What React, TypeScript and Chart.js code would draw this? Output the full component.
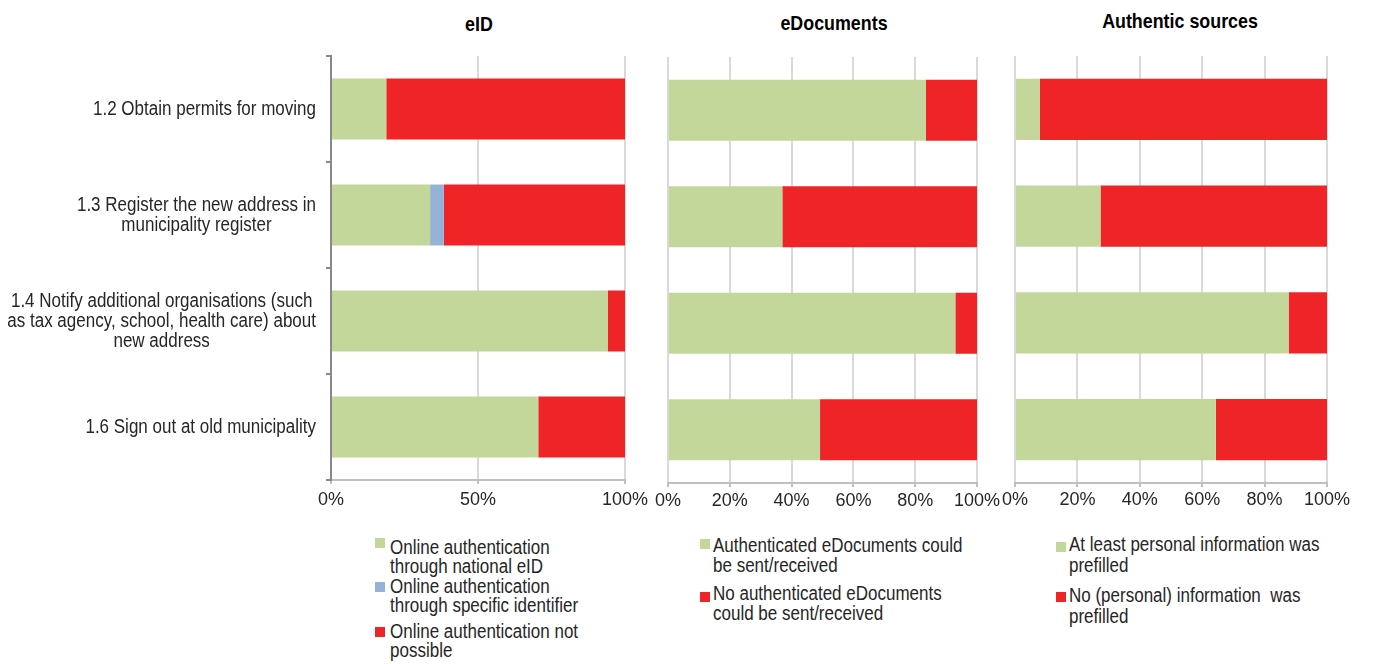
import React, { useEffect, useRef } from "react";
import { Chart, registerables } from "chart.js";

Chart.register(...registerables);

// ---------- data ----------
const categories: string[][] = [
  ["1.2 Obtain permits for moving"],
  ["1.3 Register the new address in", "municipality register"],
  ["1.4 Notify additional organisations (such", "as tax agency, school, health care) about", "new address"],
  ["1.6 Sign out at old municipality"],
];

const panelTitles = ["eID", "eDocuments", "Authentic sources"];

const eidNational = [18.8, 33.7, 94.1, 70.5];
const eidSpecific = [0, 4.7, 0, 0];
const eidNotPossible = [81.2, 61.6, 5.9, 29.5];

const edocSent = [83.4, 37.0, 93.0, 49.2];
const edocNotSent = [16.6, 63.0, 7.0, 50.8];

const authPrefilled = [7.9, 27.4, 87.7, 64.4];
const authNotPrefilled = [92.1, 72.6, 12.3, 35.6];

const eidTicks = [0, 50, 100];
const pctTicks = [0, 20, 40, 60, 80, 100];

const eidLegend = [
  ["Online authentication", "through national eID"],
  ["Online authentication", "through specific identifier"],
  ["Online authentication not", "possible"],
];
const edocLegend = [
  ["Authenticated eDocuments could", "be sent/received"],
  ["No authenticated eDocuments", "could be sent/received"],
];
const authLegend = [
  ["At least personal information was", "prefilled"],
  ["No (personal) information  was", "prefilled"],
];

// ---------- styles ----------
const GREEN = "#c4d79b";
const BLUE = "#95b3d7";
const RED = "#ee2426";
const TEXT = "#262626";
const FONT = '"Liberation Sans", Arial, sans-serif';
const NARROW = 0.85;

type DS = { label: string; data: number[]; color: string };

type PanelSpec = {
  left: number;
  top: number;
  width: number;
  height: number;
  pad: { top: number; right: number; bottom: number; left: number };
  datasets: DS[];
  ticks: number[];
  showY: boolean;
  tickPad: number;
};

const yLabelPlugin = {
  id: "yLabelsCentered",
  afterDraw(chart: any) {
    const opts = chart.options.plugins.yLabelsCentered;
    if (!opts || !opts.enabled) return;
    const ctx = chart.ctx;
    const yScale = chart.scales.y;
    ctx.save();
    ctx.font = `20px ${FONT}`;
    ctx.fillStyle = TEXT;
    ctx.textAlign = "center";
    ctx.textBaseline = "middle";
    categories.forEach((lines, i) => {
      const cy = yScale.getPixelForValue(i);
      const w = Math.max(...lines.map((l) => ctx.measureText(l).width)) * NARROW;
      const cx = opts.right - w / 2;
      lines.forEach((l, j) => {
        ctx.save();
        ctx.translate(cx, cy + (j - (lines.length - 1) / 2) * 20);
        ctx.scale(NARROW, 1);
        ctx.fillText(l, 0, 0);
        ctx.restore();
      });
    });
    ctx.restore();
  },
};

function BarPanel({ spec }: { spec: PanelSpec }) {
  const ref = useRef<HTMLCanvasElement | null>(null);
  useEffect(() => {
    if (!ref.current) return;
    const chart = new Chart(ref.current, {
      type: "bar",
      data: {
        labels: categories.map((c) => c.join(" ")),
        datasets: spec.datasets.map((d) => ({
          label: d.label,
          data: d.data,
          backgroundColor: d.color,
          borderWidth: 0,
          barPercentage: 0.575,
          categoryPercentage: 1,
        })),
      },
      options: {
        indexAxis: "y",
        responsive: false,
        animation: false,
        layout: { padding: spec.pad },
        plugins: {
          legend: { display: false },
          title: { display: false },
          tooltip: { enabled: false },
          yLabelsCentered: { enabled: spec.showY, right: 316 },
        } as any,
        scales: {
          x: {
            stacked: true,
            min: 0,
            max: 100,
            afterBuildTicks: (s: any) => {
              s.ticks = spec.ticks.map((v) => ({ value: v }));
            },
            afterFit: (s: any) => {
              s.height = 30;
              s.paddingLeft = 0;
              s.paddingRight = 0;
            },
            ticks: {
              callback: (v: any) => `${v}%`,
              color: TEXT,
              font: { family: FONT, size: 18 },
              padding: spec.tickPad,
              maxRotation: 0,
              autoSkip: false,
            },
            grid: {
              color: "#d9d9d9",
              lineWidth: 2,
              drawTicks: true,
              tickLength: 4,
              tickColor: "#bfbfbf",
              tickWidth: 2,
            },
            border: { display: true, color: "#bfbfbf", width: 2 },
          },
          y: {
            stacked: true,
            display: spec.showY,
            afterFit: (s: any) => {
              if (spec.showY) s.width = 331;
            },
            ticks: { display: false },
            grid: {
              offset: true,
              drawOnChartArea: false,
              drawTicks: true,
              tickLength: 5,
              tickColor: "#888888",
              tickWidth: 2,
              color: "#888888",
              lineWidth: 2,
            },
            border: { display: true, color: "#888888", width: 2 },
          },
        },
      } as any,
      plugins: [yLabelPlugin],
    });
    return () => chart.destroy();
  }, [spec]);
  return (
    <canvas
      ref={ref}
      width={spec.width}
      height={spec.height}
      style={{
        position: "absolute",
        left: spec.left,
        top: spec.top,
        width: spec.width,
        height: spec.height,
      }}
    />
  );
}

function Legend({
  items,
  colors,
  boxLeft,
  textLeft,
  tops,
  boxTops,
  lineHeight,
}: {
  items: string[][];
  colors: string[];
  boxLeft: number;
  textLeft: number;
  tops: number[];
  boxTops: number[];
  lineHeight: number;
}) {
  return (
    <>
      {items.map((lines, i) => (
        <React.Fragment key={i}>
          <div
            style={{
              position: "absolute",
              left: boxLeft,
              top: boxTops[i],
              width: 10,
              height: 10,
              background: colors[i],
            }}
          />
          <div
            style={{
              position: "absolute",
              left: textLeft,
              top: tops[i],
              fontFamily: FONT,
              fontSize: 20,
              lineHeight: `${lineHeight}px`,
              color: TEXT,
              whiteSpace: "pre",
              transform: `scaleX(${NARROW})`,
              transformOrigin: "left top",
            }}
          >
            {lines.map((l, j) => (
              <div key={j}>{l}</div>
            ))}
          </div>
        </React.Fragment>
      ))}
    </>
  );
}

const panels: PanelSpec[] = [
  {
    left: 0,
    top: 40,
    width: 650,
    height: 480,
    pad: { top: 16, right: 25, bottom: 10, left: 0 },
    datasets: [
      { label: eidLegend[0].join(" "), data: eidNational, color: GREEN },
      { label: eidLegend[1].join(" "), data: eidSpecific, color: BLUE },
      { label: eidLegend[2].join(" "), data: eidNotPossible, color: RED },
    ],
    ticks: eidTicks,
    showY: true,
    tickPad: 5,
  },
  {
    left: 650,
    top: 40,
    width: 350,
    height: 480,
    pad: { top: 17, right: 23, bottom: 7, left: 18 },
    datasets: [
      { label: edocLegend[0].join(" "), data: edocSent, color: GREEN },
      { label: edocLegend[1].join(" "), data: edocNotSent, color: RED },
    ],
    ticks: pctTicks,
    showY: false,
    tickPad: 3,
  },
  {
    left: 1000,
    top: 40,
    width: 373,
    height: 480,
    pad: { top: 16, right: 46, bottom: 7, left: 15 },
    datasets: [
      { label: authLegend[0].join(" "), data: authPrefilled, color: GREEN },
      { label: authLegend[1].join(" "), data: authNotPrefilled, color: RED },
    ],
    ticks: pctTicks,
    showY: false,
    tickPad: 2,
  },
];

const titleCenters = [479, 834, 1180];
const titleTops = [12, 11, 9];

export default function App() {
  return (
    <div
      style={{
        position: "absolute",
        left: 0,
        top: 0,
        width: 1373,
        height: 664,
        background: "#ffffff",
        overflow: "hidden",
      }}
    >
      {panelTitles.map((t, i) => (
        <div
          key={t}
          style={{
            position: "absolute",
            left: titleCenters[i] - 150,
            width: 300,
            top: titleTops[i],
            textAlign: "center",
            fontFamily: FONT,
            fontWeight: "bold",
            fontSize: 21,
            lineHeight: "24px",
            color: "#000",
            transform: `scaleX(${NARROW})`,
            transformOrigin: "center top",
          }}
        >
          {t}
        </div>
      ))}
      {panels.map((p, i) => (
        <BarPanel key={i} spec={p} />
      ))}
      <Legend
        items={eidLegend}
        colors={[GREEN, BLUE, RED]}
        boxLeft={375}
        textLeft={390}
        tops={[538, 577, 622]}
        boxTops={[538, 582, 627]}
        lineHeight={18.5}
      />
      <Legend
        items={edocLegend}
        colors={[GREEN, RED]}
        boxLeft={700}
        textLeft={713}
        tops={[535, 583]}
        boxTops={[539, 592]}
        lineHeight={20}
      />
      <Legend
        items={authLegend}
        colors={[GREEN, RED]}
        boxLeft={1056}
        textLeft={1069}
        tops={[534, 585]}
        boxTops={[542, 592]}
        lineHeight={21}
      />
    </div>
  );
}
